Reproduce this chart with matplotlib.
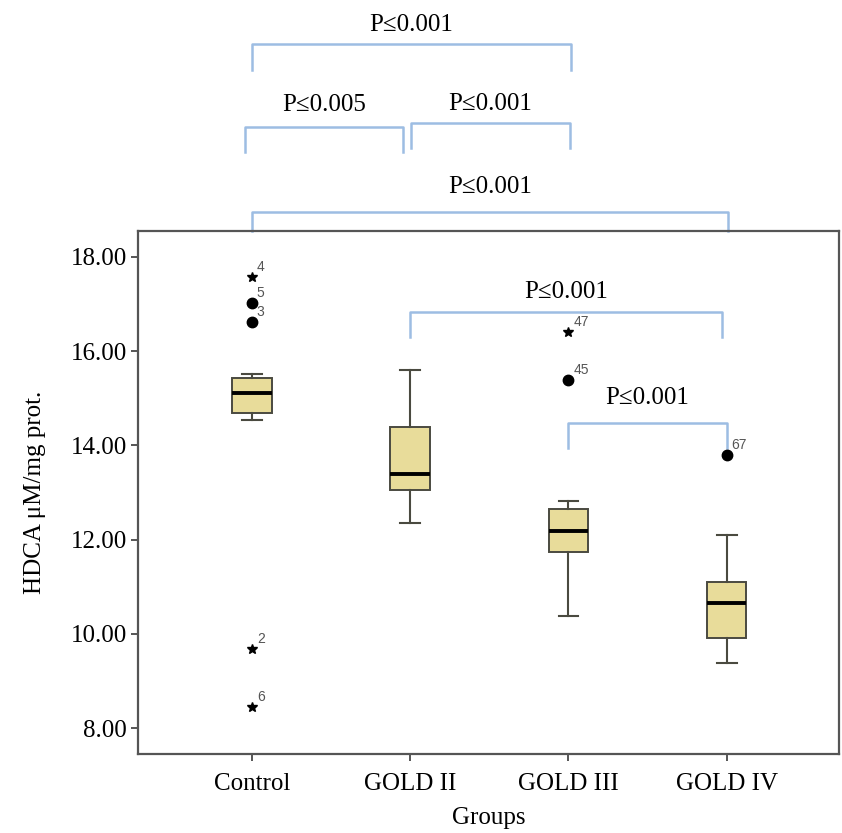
import matplotlib
matplotlib.use('Agg')
import matplotlib.pyplot as plt

plt.rcParams['font.family'] = ['Liberation Serif', 'DejaVu Serif']

# HDCA per group: box statistics (uM/mg protein)
groups = ['Control', 'GOLD II', 'GOLD III', 'GOLD IV']
whislo = [14.54, 12.35, 10.38, 9.38]
q1 = [14.69, 13.05, 11.74, 9.91]
med = [15.11, 13.39, 12.18, 10.65]
q3 = [15.43, 14.39, 12.65, 11.10]
whishi = [15.52, 15.60, 12.82, 12.10]

# outliers (circles) and extremes (stars) with case numbers
out_group = [1, 1, 3, 4]
out_value = [17.02, 16.62, 15.39, 13.80]
out_case = ['5', '3', '45', '67']
ext_group = [1, 1, 1, 3]
ext_value = [17.58, 9.68, 8.45, 16.41]
ext_case = ['4', '2', '6', '47']

# pairwise comparisons: (left group, right group, label, bracket level)
cmp_left = [1, 1, 2, 1, 2, 3]
cmp_right = [3, 2, 3, 4, 4, 4]
cmp_label = ['P≤0.001', 'P≤0.005', 'P≤0.001', 'P≤0.001', 'P≤0.001', 'P≤0.001']
cmp_level = [22.52, 20.76, 20.85, 18.96, 16.83, 14.48]
cmp_drop = [0.55, 0.53, 0.54, 0.41, 0.53, 0.54]
cmp_text_y = [22.93, 21.23, 21.25, 19.49, 17.26, 15.01]
cmp_shift = [(0.0, 0.015), (-0.044, -0.044), (0.006, 0.01), (0.0, 0.01), (0.0, -0.03), (0.0, 0.0)]

fig = plt.figure(figsize=(8.42, 8.33), dpi=100)
ax = fig.add_axes([0.1639, 0.0948, 0.8325, 0.6279])

stats = []
for i, g in enumerate(groups):
    stats.append(dict(label=g, whislo=whislo[i], q1=q1[i], med=med[i],
                      q3=q3[i], whishi=whishi[i], fliers=[]))

edge = '#4a4a40'
ax.bxp(stats, positions=range(1, 5), widths=0.25, patch_artist=True,
       showfliers=False,
       boxprops=dict(facecolor='#e8dc9a', edgecolor=edge, linewidth=1.4),
       medianprops=dict(color='black', linewidth=2.8),
       whiskerprops=dict(color=edge, linewidth=1.5),
       capprops=dict(color=edge, linewidth=1.5))

ax.plot(out_group, out_value, 'o', color='black', markersize=7.5, zorder=3)
ax.plot(ext_group, ext_value, '*', color='black', markersize=7, zorder=3)
for xs, ys, cs in [(out_group, out_value, out_case), (ext_group, ext_value, ext_case)]:
    for x, y, c in zip(xs, ys, cs):
        ax.annotate(c, (x, y), xytext=(3.5, 7), textcoords='offset points',
                    ha='left', va='center', fontsize=10, color='#555555',
                    family=['Liberation Sans', 'DejaVu Sans'])

# significance brackets
blue = '#9dbde3'
for l, r, lab, lev, d, ty, sh in zip(cmp_left, cmp_right, cmp_label, cmp_level,
                                     cmp_drop, cmp_text_y, cmp_shift):
    x0 = l + sh[0]
    x1 = r + sh[1]
    ax.plot([x0, x0, x1, x1], [lev - d, lev, lev, lev - d], color=blue,
            linewidth=1.8, solid_joinstyle='round', clip_on=False, zorder=2)
    ax.text((x0 + x1) / 2, ty, lab, ha='center', va='center',
            fontsize=18, color='black', clip_on=False)

ax.set_xlim(0.28, 4.71)
ax.set_ylim(7.45, 18.55)
ax.set_yticks([8, 10, 12, 14, 16, 18])
ax.set_yticklabels(['%.2f' % v for v in [8, 10, 12, 14, 16, 18]])
ax.set_xticks(range(1, 5))
ax.set_xticklabels(groups)

for s in ax.spines.values():
    s.set_color('#555555')
    s.set_linewidth(1.6)
ax.tick_params(axis='both', colors='#555555', length=5, width=1.4,
               labelsize=18, labelcolor='black')
ax.tick_params(axis='y', pad=3)
ax.tick_params(axis='x', pad=9)

ax.set_xlabel('Groups', fontsize=18, labelpad=8)
ax.set_ylabel('HDCA μM/mg prot.', fontsize=18, labelpad=18)

fig.savefig('out.png', dpi=100)
